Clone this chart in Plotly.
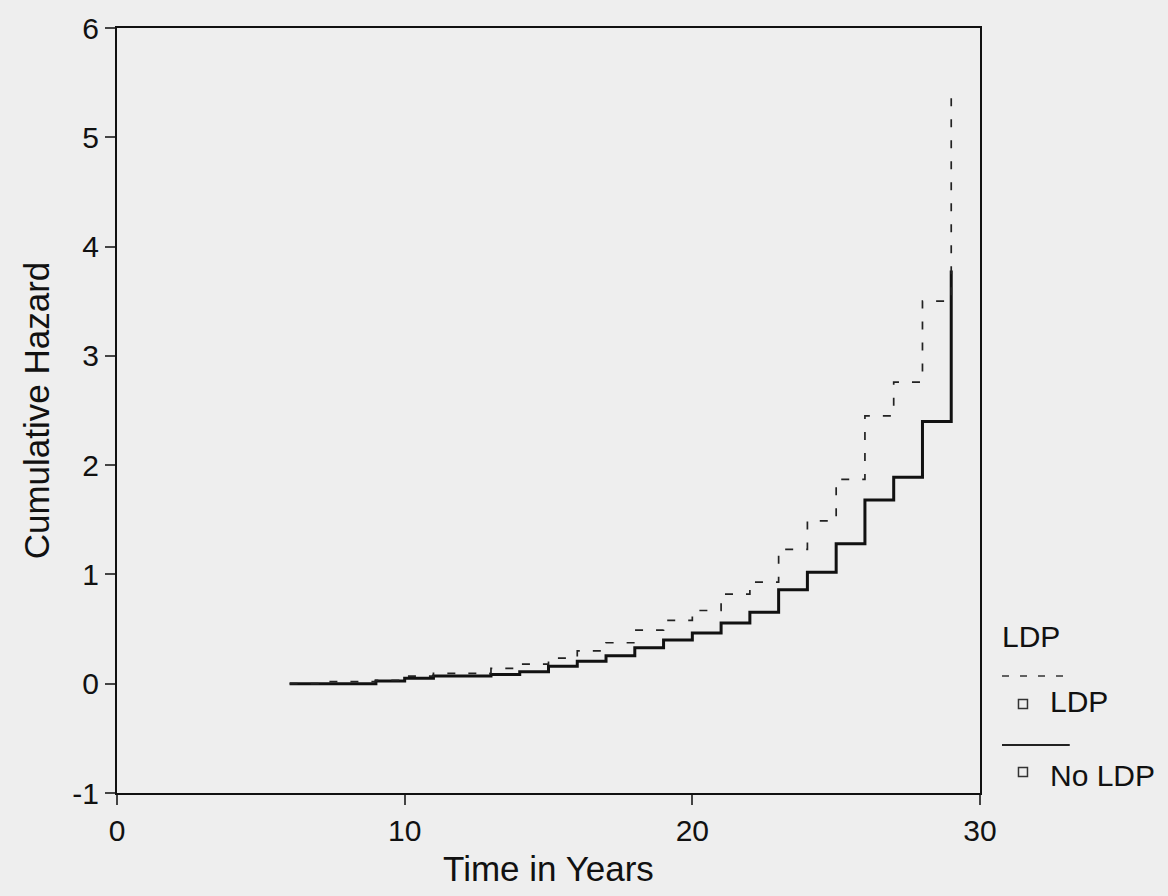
import plotly.graph_objects as go

# Cumulative hazard step functions
no_ldp_time = [6, 9, 10, 11, 13, 14, 15, 16, 17, 18, 19, 20, 21, 22, 23, 24, 25, 26, 27, 28, 29]
no_ldp_haz = [0.0, 0.025, 0.05, 0.07, 0.085, 0.11, 0.16, 0.205, 0.255, 0.33, 0.40, 0.465,
              0.555, 0.655, 0.86, 1.02, 1.28, 1.68, 1.89, 2.40, 3.78]

ldp_time = [6, 7, 9, 10, 11, 13, 14, 15, 16, 17, 18, 19, 20, 21, 22, 23, 24, 25, 26, 27, 28, 29]
ldp_haz = [0.0, 0.02, 0.03, 0.07, 0.094, 0.14, 0.18, 0.235, 0.30, 0.375, 0.49, 0.58, 0.67,
           0.82, 0.93, 1.23, 1.49, 1.87, 2.45, 2.76, 3.50, 5.44]

x_ticks = [0, 10, 20, 30]
y_ticks = [-1, 0, 1, 2, 3, 4, 5, 6]
y_tick_labels = ["-1", "0", "1", "2", "3", "4", "5", "6"]

FONT = "Liberation Sans, Arial, Helvetica, sans-serif"
BG = "#eeeeee"

fig = go.Figure()
fig.add_trace(go.Scatter(x=no_ldp_time, y=no_ldp_haz, mode="lines", line_shape="hv",
                         line=dict(color="#111111", width=3), name="No LDP", showlegend=False))
fig.add_trace(go.Scatter(x=ldp_time, y=ldp_haz, mode="lines", line_shape="hv",
                         line=dict(color="#222222", width=1.7, dash="8px,13px"), name="LDP",
                         showlegend=False))

fig.update_layout(
    width=1168, height=896,
    margin=dict(l=117, r=188, t=28, b=103),
    paper_bgcolor=BG, plot_bgcolor=BG,
    font=dict(family=FONT, color="#111111", size=30),
    xaxis=dict(range=[0, 30], tickvals=x_ticks, ticks="outside", ticklen=10, tickwidth=2,
               showline=True, linecolor="#111111", linewidth=2.2, mirror=True,
               showgrid=False, zeroline=False,
               title=dict(text="Time in Years", font=dict(size=35), standoff=10),
               tickfont=dict(size=30)),
    yaxis=dict(range=[-1, 6], tickvals=y_ticks, ticktext=y_tick_labels, ticks="outside",
               ticklen=10, tickwidth=2,
               showline=True, linecolor="#111111", linewidth=2.2, mirror=True,
               showgrid=False, zeroline=False,
               title=dict(text="Cumulative Hazard", font=dict(size=35), standoff=12),
               tickfont=dict(size=30)),
)

# Custom legend (SPSS style) to the right of the plot
fig.add_annotation(xref="paper", yref="paper", x=1.023, y=0.205, xanchor="left", yanchor="middle",
                   text="LDP", showarrow=False, font=dict(size=30, family=FONT))
fig.add_shape(type="line", xref="paper", yref="paper", x0=1.0255, x1=1.104, y0=0.153, y1=0.153,
              line=dict(color="#333333", width=1.4, dash="7px,11px"))
fig.add_shape(type="rect", xref="paper", yref="paper", xsizemode="pixel", ysizemode="pixel",
              xanchor=1.0498, yanchor=0.1163, x0=-4.5, x1=4.5, y0=-4.5, y1=4.5,
              line=dict(color="#333333", width=1.5), fillcolor="rgba(0,0,0,0)")
fig.add_annotation(xref="paper", yref="paper", x=1.0788, y=0.119, xanchor="left", yanchor="middle",
                   text="LDP", showarrow=False, font=dict(size=30, family=FONT))
fig.add_shape(type="line", xref="paper", yref="paper", x0=1.0255, x1=1.104, y0=0.0627, y1=0.0627,
              line=dict(color="#222222", width=2))
fig.add_shape(type="rect", xref="paper", yref="paper", xsizemode="pixel", ysizemode="pixel",
              xanchor=1.0498, yanchor=0.0275, x0=-4.5, x1=4.5, y0=-4.5, y1=4.5,
              line=dict(color="#333333", width=1.5), fillcolor="rgba(0,0,0,0)")
fig.add_annotation(xref="paper", yref="paper", x=1.0788, y=0.0235, xanchor="left", yanchor="middle",
                   text="No LDP", showarrow=False, font=dict(size=30, family=FONT))

fig.write_html("out.html", config={"displayModeBar": False},
               post_script="document.body.style.margin='0';")
